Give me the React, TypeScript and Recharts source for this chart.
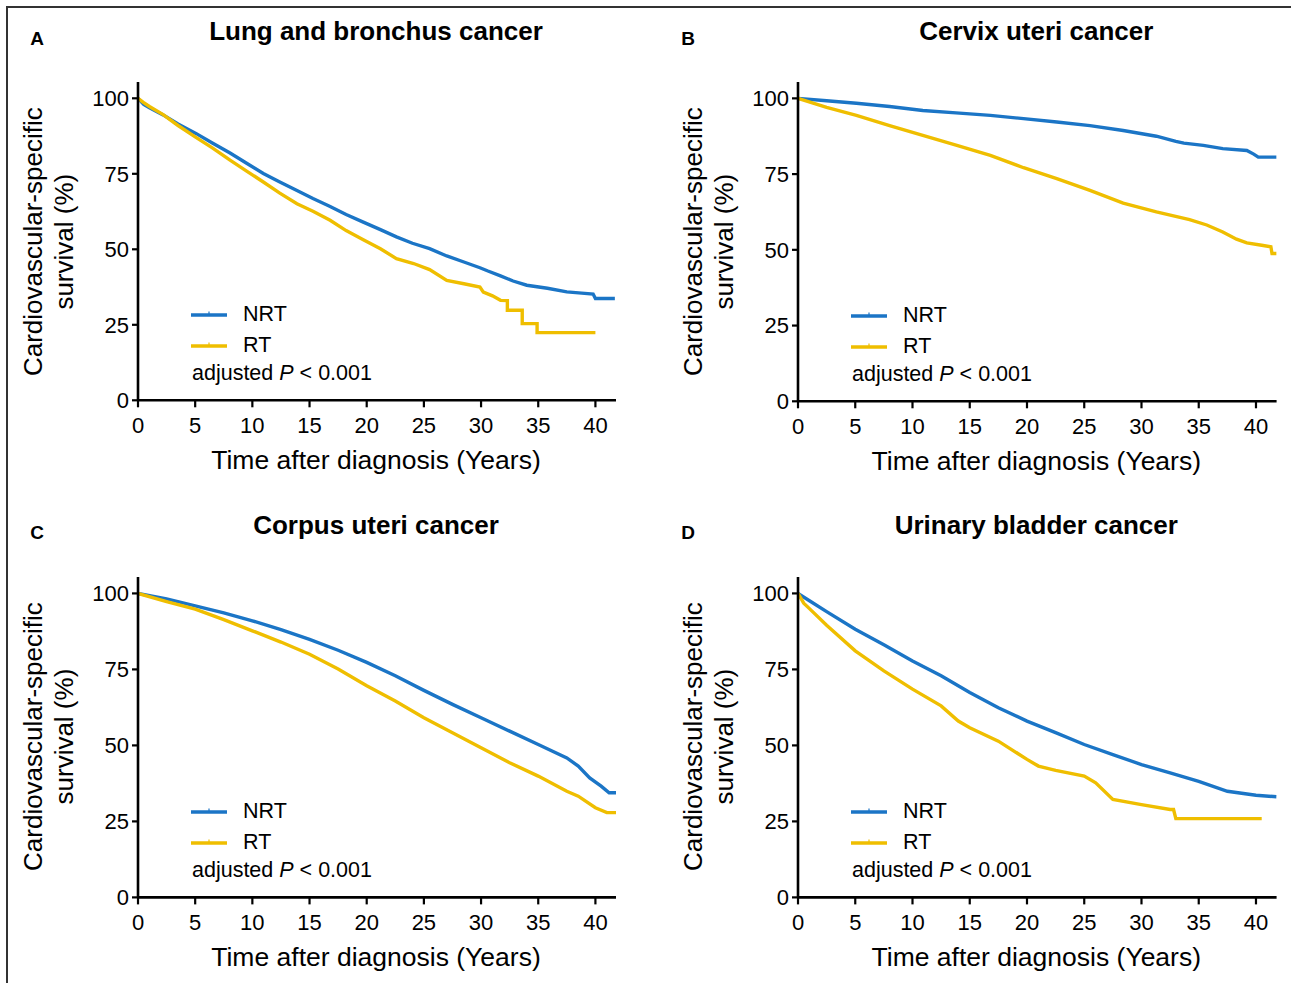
import React from "react";
import { LineChart, Line, XAxis, YAxis } from "recharts";

// ---------- data (time in years, survival in %) ----------
const xTicks = [0, 5, 10, 15, 20, 25, 30, 35, 40];
const yTicks = [0, 25, 50, 75, 100];
const seriesNames = ["NRT", "RT"];
const panelTitles = ["Lung and bronchus cancer", "Cervix uteri cancer", "Corpus uteri cancer", "Urinary bladder cancer"];
const panelLetters = ["A", "B", "C", "D"];
const yLabelLines = ["Cardiovascular-specific", "survival (%)"];
const xLabel = "Time after diagnosis (Years)";
const pText = "0.001";

const lungNRT: [number, number][] = [
  [0, 100], [0.5, 98.0], [1, 96.9], [2.2, 94.5], [3.5, 91.5], [5.1, 88.3], [6.5, 85.2], [8.05, 81.9],
  [9.5, 78.5], [10.96, 75.1], [12.4, 72.3], [13.9, 69.5], [15.3, 66.8], [16.8, 64.2], [18.2, 61.5],
  [19.7, 59.0], [21.2, 56.5], [22.6, 54.1], [24.0, 52.0], [25.5, 50.2], [27.0, 47.8], [28.5, 45.8],
  [29.9, 43.9], [30.6, 42.8], [31.7, 41.2], [32.8, 39.5], [34.0, 38.1], [35.8, 37.1], [37.5, 35.9],
  [38.8, 35.5], [39.8, 35.2], [40.0, 33.7], [41.7, 33.7],
];
const lungRT: [number, number][] = [
  [0, 100], [0.5, 98.6], [1, 97.3], [2.2, 94.6], [3.5, 91.0], [5.1, 87.0], [6.5, 83.6], [8.05, 79.5],
  [9.5, 75.9], [10.96, 72.3], [12.4, 68.6], [13.9, 65.1], [15.3, 62.6], [16.8, 59.6], [18.2, 56.2],
  [19.7, 53.2], [21.2, 50.2], [22.6, 46.9], [24.1, 45.3], [25.5, 43.3], [27.0, 39.7], [28.5, 38.6],
  [29.9, 37.5], [30.2, 35.8], [31.0, 34.6], [31.7, 33.1], [32.3, 33.0], [32.3, 29.8], [33.6, 29.8],
  [33.6, 25.4], [34.9, 25.4], [34.9, 22.4], [40.0, 22.4],
];
const cervixNRT: [number, number][] = [
  [0, 100], [2.5, 99.2], [5.1, 98.4], [8, 97.3], [10.9, 96.0], [13.8, 95.2], [16.8, 94.4], [19.7, 93.3],
  [22.6, 92.2], [25.5, 91.0], [28.4, 89.4], [31.3, 87.5], [33.0, 85.8], [33.7, 85.2], [35.4, 84.5],
  [37.1, 83.4], [39.2, 82.8], [39.8, 81.6], [40.2, 80.6], [41.8, 80.6],
];
const cervixRT: [number, number][] = [
  [0, 100], [2.5, 97.0], [5.1, 94.4], [8, 91.0], [10.9, 87.8], [13.8, 84.6], [16.8, 81.2], [19.7, 77.1],
  [22.6, 73.5], [25.5, 69.6], [28.4, 65.4], [31.3, 62.5], [34.2, 60.0], [35.7, 58.2], [37.1, 55.9],
  [38.3, 53.5], [39.2, 52.3], [40.5, 51.5], [41.3, 51.0], [41.4, 48.8], [41.8, 48.8],
];
const corpusNRT: [number, number][] = [
  [0, 100], [2.5, 98.2], [5, 95.9], [7.5, 93.6], [10, 91.0], [12.5, 88.1], [15, 84.9], [17.5, 81.3],
  [20, 77.3], [22.5, 72.9], [25, 68.1], [27.5, 63.5], [30, 59.1], [32.5, 54.7], [35, 50.3], [37.5, 45.9],
  [38.5, 43.2], [39.5, 39.3], [40.5, 36.6], [41.2, 34.4], [41.8, 34.4],
];
const corpusRT: [number, number][] = [
  [0, 100], [2.5, 97.3], [5, 94.8], [7.5, 91.4], [10, 87.7], [12.5, 84.0], [15, 80.0], [17.5, 75.1],
  [20, 69.6], [22.5, 64.6], [25, 59.1], [27.5, 54.2], [30, 49.2], [32.5, 44.3], [35, 39.9], [37.5, 34.9],
  [38.5, 33.3], [40, 29.5], [41, 27.9], [41.8, 27.9],
];
const bladderNRT: [number, number][] = [
  [0, 100], [1, 97.6], [2.5, 94.0], [5, 88.2], [7.5, 83.1], [10, 77.8], [12.5, 72.9], [15, 67.4],
  [17.5, 62.4], [20, 58.0], [22.5, 54.2], [25, 50.3], [27.5, 47.0], [30, 43.7], [32.5, 41.0],
  [35, 38.2], [37.5, 34.9], [40, 33.6], [41.8, 33.1],
];
const bladderRT: [number, number][] = [
  [0, 100], [0.5, 96.8], [1, 95.0], [2.5, 89.5], [5, 81.1], [7.5, 74.5], [10, 68.5], [12.5, 63.0], [14, 58.0],
  [15, 55.8], [17.5, 51.4], [20, 45.4], [21, 43.2], [22.5, 41.8], [25, 39.9], [26, 37.7], [27.5, 32.2],
  [30, 30.5], [32.5, 28.9], [32.8, 28.9], [33.0, 25.9], [40.5, 25.9],
];

const panelSeries = [
  [lungNRT, lungRT],
  [cervixNRT, cervixRT],
  [corpusNRT, corpusRT],
  [bladderNRT, bladderRT],
];

// ---------- styles / layout ----------
const COLORS = ["#1b75c6", "#efbe00"];
const FONT = "'Liberation Sans', Arial, Helvetica, sans-serif";
const X_MAX = 41.8;
const Y_MAX = 105.4;
const AXIS_W = 70;
const AXIS_H = 45;
const M_TOP = 5;
const M_RIGHT = 12;

const layouts = [
  { left: 138, top: 81.7, w: 478, h: 318.3 },
  { left: 798, top: 81.7, w: 478.6, h: 319.3 },
  { left: 138, top: 576.6, w: 478, h: 320.4 },
  { left: 798, top: 576.6, w: 478.6, h: 320.4 },
];

const toRows = (arr: [number, number][]) => arr.map(([t, v]) => ({ t, v }));

function Panel({ idx }: { idx: number }) {
  const L = layouts[idx];
  const chartW = L.w + AXIS_W + M_RIGHT;
  const chartH = L.h + AXIS_H + M_TOP;
  const tickStyle = { fill: "#000", fontSize: 22, fontFamily: FONT };
  return (
    <div style={{ position: "absolute", left: L.left - AXIS_W, top: L.top - M_TOP }}>
      <LineChart width={chartW} height={chartH} margin={{ top: M_TOP, right: M_RIGHT, left: 0, bottom: 0 }}>
        <XAxis
          type="number"
          dataKey="t"
          domain={[0, X_MAX]}
          ticks={xTicks}
          allowDataOverflow
          height={AXIS_H}
          tick={tickStyle}
          tickSize={7}
          tickMargin={10}
          axisLine={{ stroke: "#000", strokeWidth: 2.6 }}
          tickLine={{ stroke: "#000", strokeWidth: 2.2 }}
          interval={0}
        />
        <YAxis
          type="number"
          dataKey="v"
          domain={[0, Y_MAX]}
          ticks={yTicks}
          allowDataOverflow
          width={AXIS_W}
          tick={tickStyle}
          tickSize={6}
          tickMargin={3}
          axisLine={{ stroke: "#000", strokeWidth: 2.6 }}
          tickLine={{ stroke: "#000", strokeWidth: 2.2 }}
          interval={0}
        />
        {panelSeries[idx].map((s, i) => (
          <Line
            key={seriesNames[i]}
            data={toRows(s)}
            dataKey="v"
            type="linear"
            stroke={COLORS[i]}
            strokeWidth={3.4}
            dot={false}
            isAnimationActive={false}
          />
        ))}
      </LineChart>
    </div>
  );
}

function Decorations() {
  const items: React.ReactNode[] = [];
  layouts.forEach((L, idx) => {
    const cx = L.left + L.w / 2 - 1;
    const bottom = L.top + L.h;
    const col = idx % 2;
    const letterX = col === 0 ? 37 : 688;
    const row0 = idx < 2;
    const titleY = row0 ? 33 : 527;
    items.push(
      <text key={`l${idx}`} x={letterX} y={titleY + 7} textAnchor="middle" dominantBaseline="middle"
        fontFamily={FONT} fontWeight="bold" fontSize={19}>{panelLetters[idx]}</text>,
      <text key={`t${idx}`} x={cx} y={titleY} textAnchor="middle" dominantBaseline="middle"
        fontFamily={FONT} fontWeight="bold" fontSize={26}>{panelTitles[idx]}</text>,
      <text key={`x${idx}`} x={cx} y={bottom + 62} textAnchor="middle" dominantBaseline="middle"
        fontFamily={FONT} fontSize={26.5}>{xLabel}</text>
    );
    const yc = L.top + 160;
    const lx = L.left - 103;
    items.push(
      <text key={`y1${idx}`} x={lx} y={yc} transform={`rotate(-90 ${lx} ${yc})`} textAnchor="middle"
        dominantBaseline="middle" fontFamily={FONT} fontSize={26}>{yLabelLines[0]}</text>,
      <text key={`y2${idx}`} x={lx + 31} y={yc} transform={`rotate(-90 ${lx + 31} ${yc})`} textAnchor="middle"
        dominantBaseline="middle" fontFamily={FONT} fontSize={26}>{yLabelLines[1]}</text>
    );
    // legend
    const legX = L.left + 53;
    const legY = bottom - 85;
    seriesNames.forEach((n, i) => {
      const y = legY + i * 31;
      items.push(
        <line key={`ll${idx}${i}`} x1={legX} x2={legX + 36} y1={y} y2={y} stroke={COLORS[i]} strokeWidth={3.4} />,
        <line key={`lt${idx}${i}`} x1={legX + 18} x2={legX + 18} y1={y - 3.5} y2={y} stroke={COLORS[i]} strokeWidth={1.2} />,
        <text key={`lx${idx}${i}`} x={legX + 52} y={y} dominantBaseline="middle" fontFamily={FONT} fontSize={21.5}>{n}</text>
      );
    });
    items.push(
      <text key={`p${idx}`} x={legX + 1} y={legY + 59} dominantBaseline="middle" fontFamily={FONT} fontSize={21.5}>
        adjusted <tspan fontStyle="italic">P</tspan> {"<"} {pText}
      </text>
    );
  });
  return (
    <svg width={1291} height={983} style={{ position: "absolute", left: 0, top: 0 }}>
      <rect x={0} y={0} width={1291} height={983} fill="#fff" />
      <line x1={7} x2={7} y1={6} y2={983} stroke="#333" strokeWidth={2} />
      <line x1={6} x2={1291} y1={7} y2={7} stroke="#333" strokeWidth={2} />
      {items}
    </svg>
  );
}

export default function App() {
  return (
    <div style={{ position: "absolute", left: 0, top: 0, width: 1291, height: 983, background: "#fff", overflow: "hidden" }}>
      <Decorations />
      {[0, 1, 2, 3].map((i) => (
        <Panel key={i} idx={i} />
      ))}
    </div>
  );
}
